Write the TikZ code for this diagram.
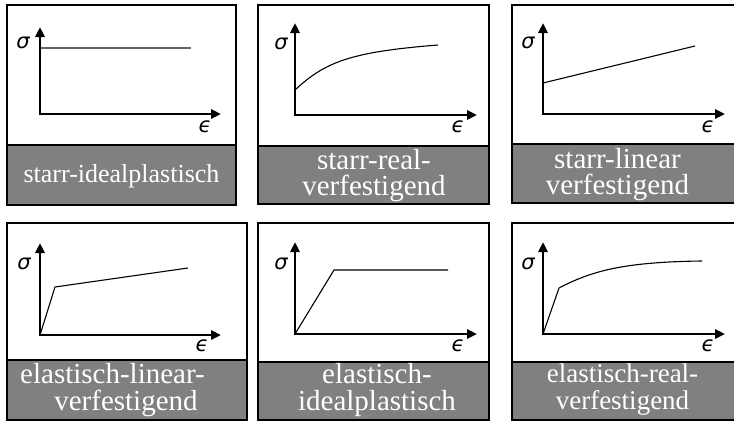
\documentclass[tikz,border=0pt]{standalone}
\usepackage{fontspec}
\setmainfont{Liberation Serif}
\newfontfamily\symfont{DejaVu Sans}
\usetikzlibrary{arrows.meta}
\definecolor{bandgray}{RGB}{128,128,128}
\definecolor{linegray}{RGB}{100,100,100}
\begin{document}
\begin{tikzpicture}[x=1pt,y=-1pt,
  panel/.style={draw=black,line width=1.5pt,fill=white},
  band/.style={draw=black,line width=1.5pt,fill=bandgray},
  axis/.style={line width=2.6pt,{Triangle[length=10pt,width=9pt]}-{Triangle[length=10pt,width=9pt]}},
  curve/.style={line width=1.1pt},
  lbl/.style={text=white,font=\fontsize{29}{26.5}\selectfont,align=center,inner sep=0pt},
  sym/.style={inner sep=0pt,font=\symfont\itshape\fontsize{21}{21}\selectfont}]
\useasboundingbox (0,0) rectangle (734,421);

% ---------- panel 1 ----------
\draw[panel] (7,5) rectangle (236,205);
\draw[band] (7,145) rectangle (236,205);
\coordinate (o1) at (40,114); \coordinate (y1) at (40,27); \coordinate (x1) at (221,114);
\draw[line width=1.1pt,draw=linegray] (40,48) -- (191,48);
\draw[axis] (y1) -- (o1) -- (x1);
\node[sym] (s1) at (23,43) {σ};
\node[sym] (e1) at (205,127) {ϵ};
\node[lbl,font=\fontsize{26}{26}\selectfont] (t1) at (121.5,176) {starr-idealplastisch};

% ---------- panel 2 ----------
\draw[panel] (258,5) rectangle (489,204);
\draw[band] (258,146) rectangle (489,204);
\coordinate (o2) at (295,115); \coordinate (y2) at (295,23); \coordinate (x2) at (477,115);
\draw[curve] (295,90) .. controls (325,62) and (350,52) .. (438,45);
\draw[axis] (y2) -- (o2) -- (x2);
\node[sym] (s2) at (281,44) {σ};
\node[sym] (e2) at (458,127) {ϵ};
\node[lbl] (t2) at (374,175.5) {starr-real-\\verfestigend};

% ---------- panel 3 ----------
\draw[panel] (512,5) rectangle (737,203);
\draw[band] (512,144) rectangle (737,203);
\coordinate (o3) at (543,114); \coordinate (y3) at (543,23); \coordinate (x3) at (725,114);
\draw[curve] (543,83) -- (695,46);
\draw[axis] (y3) -- (o3) -- (x3);
\node[sym] (s3) at (528,43) {σ};
\node[sym] (e3) at (708,127) {ϵ};
\node[lbl] (t3) at (617.5,174.5) {starr-linear\\verfestigend};

% ---------- panel 4 ----------
\draw[panel] (7,223) rectangle (247,420);
\draw[band] (7,360) rectangle (247,420);
\coordinate (o4) at (40,335); \coordinate (y4) at (40,243); \coordinate (x4) at (221,335);
\draw[curve] (40,335) -- (55,287) -- (188,268);
\draw[axis] (y4) -- (o4) -- (x4);
\node[sym] (s4) at (24,264) {σ};
\node[sym] (e4) at (202,346) {ϵ};
\node[lbl,font=\fontsize{29}{27}\selectfont] (t4) at (126,390) {elastisch-linear-\hspace*{27pt}\\verfestigend};

% ---------- panel 5 ----------
\draw[panel] (258,223) rectangle (489,420);
\draw[band] (258,362) rectangle (489,420);
\coordinate (o5) at (295,334); \coordinate (y5) at (295,242); \coordinate (x5) at (477,334);
\draw[curve] (295,334) -- (334,270) -- (448,270);
\draw[axis] (y5) -- (o5) -- (x5);
\node[sym] (s5) at (281,264) {σ};
\node[sym] (e5) at (458,346) {ϵ};
\node[lbl,font=\fontsize{29}{27}\selectfont] (t5) at (377,390) {elastisch-\\idealplastisch};

% ---------- panel 6 ----------
\draw[panel] (512,223) rectangle (737,420);
\draw[band] (512,362) rectangle (737,420);
\coordinate (o6) at (543,334); \coordinate (y6) at (543,242); \coordinate (x6) at (725,334);
\draw[curve] (543,334) -- (559,288) .. controls (590,272) and (620,262) .. (702,261);
\draw[axis] (y6) -- (o6) -- (x6);
\node[sym] (s6) at (528,264) {σ};
\node[sym] (e6) at (708,346) {ϵ};
\node[lbl,font=\fontsize{27}{27}\selectfont] (t6) at (622.5,390) {elastisch-real-\\verfestigend};
\end{tikzpicture}
\end{document}
